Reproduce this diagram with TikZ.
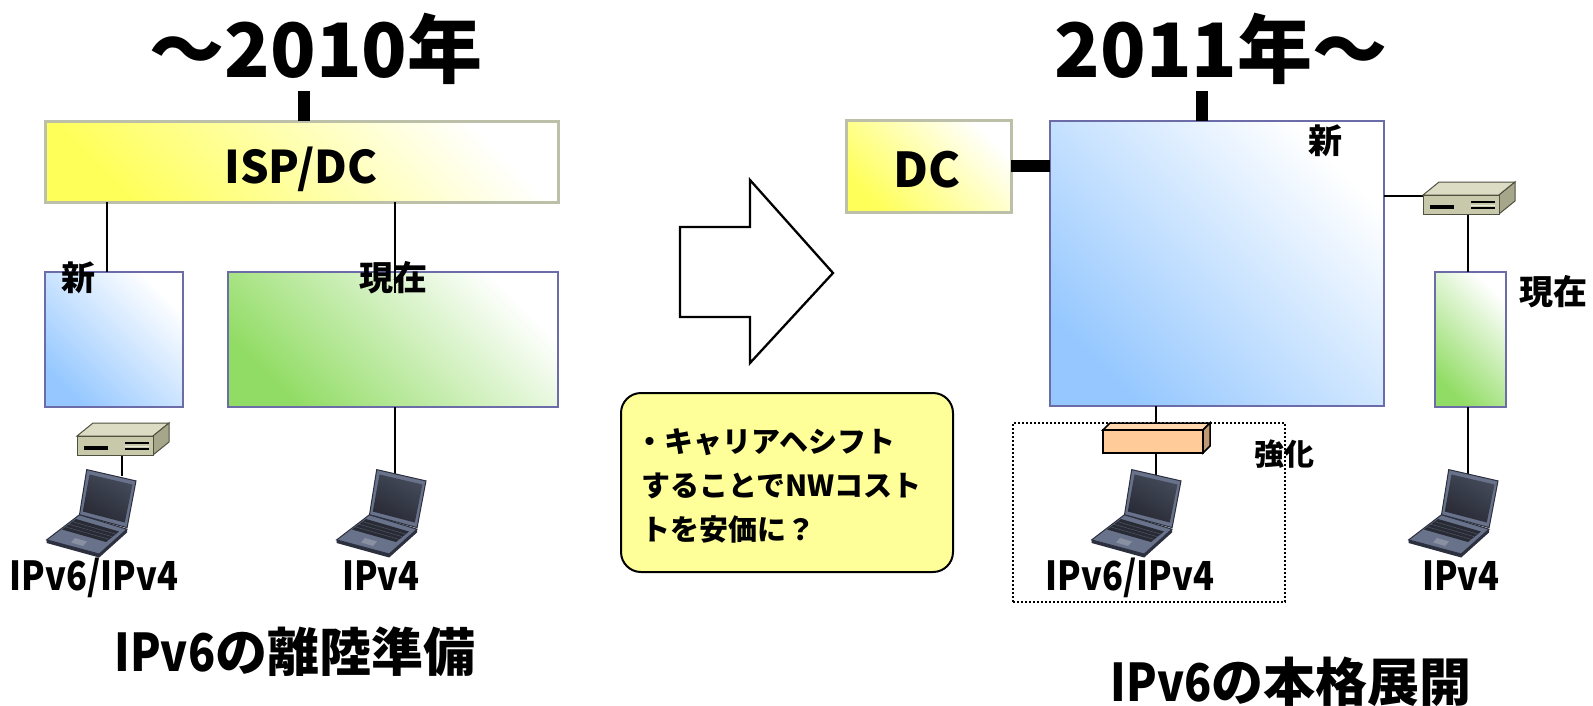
\documentclass[tikz,border=0pt]{standalone}
\usepackage{fontspec}
\setmainfont{Noto Sans CJK JP}
\newfontfamily\cond{Noto Sans CJK JP}[FakeStretch=0.86]
\usetikzlibrary{calc}

\definecolor{ybord}{RGB}{188,192,168}
\definecolor{yfill}{RGB}{255,255,90}
\definecolor{bbord}{RGB}{108,108,168}
\definecolor{bfill}{RGB}{150,200,255}
\definecolor{gfill}{RGB}{145,220,100}
\definecolor{notefill}{RGB}{255,255,153}
\definecolor{rtfront}{RGB}{200,200,170}
\definecolor{rttop}{RGB}{220,220,196}
\definecolor{rtside}{RGB}{166,166,138}
\definecolor{rtline}{RGB}{80,80,64}
\definecolor{orfill}{RGB}{255,204,153}
\definecolor{lapbody}{RGB}{104,114,138}
\definecolor{lapedge}{RGB}{44,48,62}
\definecolor{lapkeys}{RGB}{40,42,52}
\definecolor{lappad}{RGB}{136,144,162}

\tikzset{
  box/.style={anchor=north west, inner sep=0pt, outer sep=0pt},
  yellowbox/.style={box, draw=ybord, line width=3pt,
    bottom color=yfill, top color=white, shading angle=-45},
  bluebox/.style={box, draw=bbord, line width=2pt,
    bottom color=bfill, top color=white, shading angle=-45},
  greenbox/.style={box, draw=bbord, line width=2pt,
    bottom color=gfill, top color=white, shading angle=-45},
  link/.style={line width=2pt, black},
  heavylink/.style={line width=12pt, black},
  label/.style={font=\bfseries\fontsize{34pt}{40pt}\selectfont, inner sep=0pt},
  iplabel/.style={font=\cond\bfseries\fontsize{40pt}{46pt}\selectfont, anchor=base, inner sep=0pt},
  title/.style={font=\bfseries\fontsize{75pt}{90pt}\selectfont, anchor=base, inner sep=0pt},
  subtitle/.style={font=\bfseries\fontsize{52pt}{60pt}\selectfont, anchor=base, inner sep=0pt},
  notetext/.style={font=\bfseries\fontsize{29pt}{34pt}\selectfont, anchor=base west, inner sep=0pt},
  laptop/.pic={
    % base with its front edge
    \fill[lapedge] (1.6,71.9) -- (54.2,86) -- (82,61.2) -- (82,64.5) -- (54.2,89.5) -- (1.6,75) -- cycle;
    \filldraw[fill=lapbody, draw=lapedge, line width=1pt]
      (34.5,46.7) -- (82,61.2) -- (54.2,86) -- (1.6,71.9) -- cycle;
    % keyboard and touchpad
    \fill[lapkeys] (31,51) -- (74,63.5) -- (61,74) -- (17,61.5) -- cycle;
    \foreach \k in {0.25,0.5,0.75}
      \draw[lapbody!70!black, line width=0.6pt]
        ($(31,51)!\k!(17,61.5)$) -- ($(74,63.5)!\k!(61,74)$);
    \fill[lappad] (30,70) -- (42,73.5) -- (38,78) -- (26,74.5) -- cycle;
    % lid and display
    \filldraw[fill=lapbody, draw=lapedge, line width=1pt]
      (41.7,1.6) -- (91,12.9) -- (82.1,59.6) -- (34.5,46.7) -- cycle;
    \shade[top color=black!35!lapbody, bottom color=lapkeys, shading angle=-30]
      (44.5,6.5) -- (87.5,16.5) -- (79.8,54.5) -- (37.8,43.5) -- cycle;
  },
  router/.pic={
    \filldraw[fill=rttop, draw=rtline, line width=1pt] (0,13) -- (16,0) -- (92,0) -- (76,13) -- cycle;
    \filldraw[fill=rtside, draw=rtline, line width=1pt] (76,13) -- (92,0) -- (92,19) -- (76,32) -- cycle;
    \filldraw[fill=rtfront, draw=rtline, line width=1pt] (0,13) rectangle (76,32);
    \fill[black] (7,23) rectangle (31,27);
    \draw[black, line width=1.2pt] (48,20) -- (72,20) (48,26) -- (72,26);
    \draw[white!60!rtfront, line width=1pt] (48,23) -- (72,23);
  },
  switchbox/.pic={
    \filldraw[fill=orfill!80!white, draw=black, line width=1.5pt] (0,7) -- (7,0) -- (107,0) -- (100,7) -- cycle;
    \filldraw[fill=orfill!75!black, draw=black, line width=1.5pt] (100,7) -- (107,0) -- (107,23) -- (100,30) -- cycle;
    \filldraw[fill=orfill, draw=black, line width=1.5pt] (0,7) rectangle (100,30);
  }
}

\begin{document}
\begin{tikzpicture}[x=1pt, y=-1pt]
\useasboundingbox (0,0) rectangle (1593,705);

% ---- left half: up to 2010 ----
\node[yellowbox, minimum width=513pt, minimum height=81pt] (isp) at (45,121) {};
\node[bluebox, minimum width=138pt, minimum height=135pt] (newL) at (45,272) {};
\node[greenbox, minimum width=330pt, minimum height=135pt] (curL) at (228,272) {};

% ---- right half: from 2011 ----
\node[yellowbox, minimum width=165pt, minimum height=92pt] (dc) at (846,120) {};
\node[bluebox, minimum width=334pt, minimum height=285pt] (newR) at (1050,121) {};
\node[greenbox, minimum width=71pt, minimum height=135pt] (curR) at (1435,272) {};
\node[box, draw=black, dotted, line width=2pt, minimum width=272pt, minimum height=179pt] (zone) at (1013,423) {};

% callout
\node[box, draw=black, line width=2pt, fill=notefill, rounded corners=20pt,
      minimum width=332pt, minimum height=179pt] (note) at (621,393) {};

% transition arrow
\draw[line width=2.3pt, fill=white, line join=miter]
  (680,227) -- (750,227) -- (750,180) -- (833,273) -- (750,363) -- (750,317) -- (680,317) -- cycle;

% attachment points on the devices
\coordinate (tL) at (304,91);
\coordinate (tR) at (1202,91);
\coordinate (xA) at (106.5,0);
\coordinate (xB) at (395,0);
\coordinate (xC) at (1156,0);
\coordinate (xD) at (1468,0);
\coordinate (rtLtop) at (122,455);
\coordinate (lapA) at (122,476);
\coordinate (lapB) at (395,474);
\coordinate (lapC) at (1156,475);
\coordinate (lapD) at (1468,474);
\coordinate (swTop) at (1156,423);
\coordinate (swBot) at (1156,453);
\coordinate (rtR) at (1423,196);
\coordinate (rtRbot) at (1468,214);

% connectors
\draw[heavylink] (tL) -- (tL |- isp.north);
\draw[heavylink] (tR) -- (tR |- newR.north);
\draw[heavylink] (dc.east) -- (dc.east -| newR.west);
\draw[link] (isp.south -| xA) -- (newL.north -| xA);
\draw[link] (isp.south -| xB) -- ([yshift=-21pt]curL.north -| xB);
\draw[link] (curL.south -| xB) -- (lapB);
\draw[link] (rtLtop) -- (lapA);
\draw[link] (newR.south -| xC) -- (swTop);
\draw[link] (swBot) -- (lapC);
\draw[link] (rtR -| newR.east) -- (rtR);
\draw[link] (rtRbot) -- (curR.north -| xD);
\draw[link] (curR.south -| xD) -- (lapD);

% devices
\pic at (77,423) {router};
\pic at (1423,182) {router};
\pic at (1103,423) {switchbox};
\pic at (45,468) {laptop};
\pic at (335,468) {laptop};
\pic at (1090,468) {laptop};
\pic at (1407,468) {laptop};

% texts
\node[title] (yearL) at (316,77) {～2010年};
\node[title] (yearR) at (1221,77) {2011年～};
\node[font=\bfseries\fontsize{45pt}{50pt}\selectfont, anchor=base, inner sep=0pt] (ispt) at (301,183) {ISP/DC};
\node[font=\bfseries\fontsize{48pt}{54pt}\selectfont, anchor=base, inner sep=0pt] (dct) at (927,187) {DC};
\node[label] (lnewL) at (78,278) {新};
\node[label] (lcurL) at (393,278) {現在};
\node[label] (lnewR) at (1325,141) {新};
\node[label] (lcurR) at (1553,292) {現在};
\node[label, font=\bfseries\fontsize{30pt}{36pt}\selectfont] (lboost) at (1284,454) {強化};
\node[iplabel] (ipA) at (94,590) {IPv6/IPv4};
\node[iplabel] (ipB) at (381,590) {IPv4};
\node[iplabel] (ipC) at (1130,590) {IPv6/IPv4};
\node[iplabel] (ipD) at (1461,590) {IPv4};
\node[subtitle] (capL) at (295,671) {{\cond IPv6}の離陸準備};
\node[subtitle] (capR) at (1291,701) {{\cond IPv6}の本格展開};
\node[notetext] (n1) at (635,452) {・キャリアヘシフト};
\node[notetext] (n2) at (641,496) {することでNWコスト};
\node[notetext] (n3) at (641,540) {トを安価に？};

\end{tikzpicture}
\end{document}
